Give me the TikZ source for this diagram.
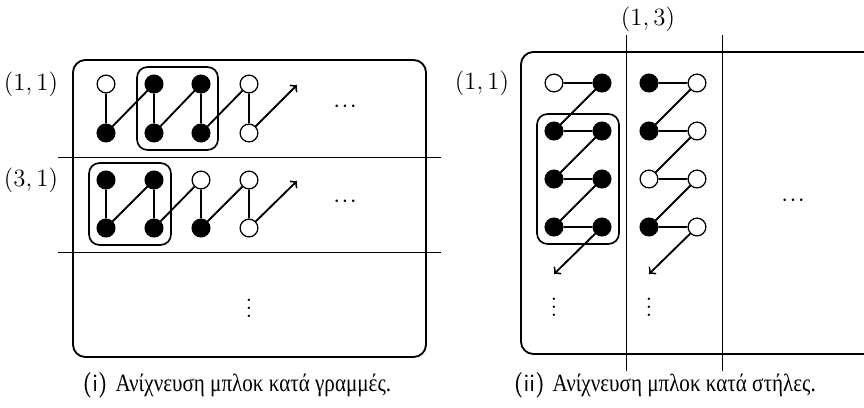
\documentclass[tikz,border=0pt]{standalone}
\usepackage{fontspec}
\usepackage{amsmath}
\usetikzlibrary{fit}
\newfontfamily\greekfont[FakeStretch=0.85]{Liberation Serif}
\newcommand{\moredots}{${\cdot}\mkern1mu{\cdot}\mkern1mu{\cdot}$}

\tikzset{
  wdot/.style={circle, draw, fill=white, inner sep=0pt, minimum size=8.6pt, line width=0.6pt},
  bdot/.style={wdot, fill=black},
  link/.style={line width=0.9pt},
  blockbox/.style={draw, rounded corners=5pt, line width=0.8pt, inner sep=3.6pt},
  panel/.style={draw, rounded corners=6pt, line width=0.9pt},
  sep/.style={line width=0.45pt},
  coord/.style={font=\large},
  caption/.style={font=\large}
}

\begin{document}
\begin{tikzpicture}[x=0.017cm, y=-0.017cm, >=to]
  \clip (0,0) rectangle (864,407);

  % (i) row-wise tracing
  \draw[panel] (73,60) rectangle (426,357);
  \draw[sep] (58,157) -- (441,157);
  \draw[sep] (58,252) -- (441,252);
  \node[coord] (lr1) at (31,84) {$(1,1)$};
  \node[coord] (lr3) at (31,180) {$(3,1)$};

  % first block row
  \node[wdot] (a11) at (106,84) {};
  \node[bdot] (a12) at (154,84) {};
  \node[bdot] (a13) at (201,84) {};
  \node[wdot] (a14) at (249,84) {};
  \node[bdot] (b11) at (106,133) {};
  \node[bdot] (b12) at (154,133) {};
  \node[bdot] (b13) at (201,133) {};
  \node[wdot] (b14) at (249,133) {};
  \coordinate (e1) at (297,85);
  \draw[link] (a11) -- (b11) -- (a12) -- (b12) -- (a13) -- (b13) -- (a14) -- (b14);
  \draw[link, ->] (b14) -- (e1);
  \node[blockbox, fit=(a12)(b13)] (blk1) {};
  \node[coord] (hd1) at (345,107) {\moredots};

  % second block row
  \node[bdot] (a21) at (106,180) {};
  \node[bdot] (a22) at (154,180) {};
  \node[wdot] (a23) at (201,180) {};
  \node[wdot] (a24) at (249,180) {};
  \node[bdot] (b21) at (106,228) {};
  \node[bdot] (b22) at (154,228) {};
  \node[bdot] (b23) at (201,228) {};
  \node[wdot] (b24) at (249,228) {};
  \coordinate (e2) at (297,181);
  \draw[link] (a21) -- (b21) -- (a22) -- (b22) -- (a23) -- (b23) -- (a24) -- (b24);
  \draw[link, ->] (b24) -- (e2);
  \node[blockbox, fit=(a21)(b22)] (blk2) {};
  \node[coord] (hd2) at (345,202) {\moredots};
  \node[coord] (vd1) at (249,302) {$\vdots$};

  \node[caption] (capi) at (237,385) {{\sffamily(i)} \greekfont Ανίχνευση μπλοκ κατά γραμμές.};

  % (ii) column-wise tracing
  \draw[panel] (521,52) rectangle (880,354);
  \draw[sep] (626,35) -- (626,371);
  \draw[sep] (722,35) -- (722,371);
  \node[coord] (rl1) at (482,83) {$(1,1)$};
  \node[coord] (rl3) at (648,19) {$(1,3)$};

  % first block column
  \node[wdot] (c11) at (554,83) {};
  \node[bdot] (c12) at (602,83) {};
  \node[bdot] (c21) at (554,131) {};
  \node[bdot] (c22) at (602,131) {};
  \node[bdot] (c31) at (554,179) {};
  \node[bdot] (c32) at (602,179) {};
  \node[bdot] (c41) at (554,227) {};
  \node[bdot] (c42) at (602,227) {};
  \coordinate (f1) at (554,274);
  \draw[link] (c11) -- (c12) -- (c21) -- (c22) -- (c31) -- (c32) -- (c41) -- (c42);
  \draw[link, ->] (c42) -- (f1);
  \node[blockbox, fit=(c21)(c42)] (blk3) {};
  \node[coord] (vd2) at (554,301) {$\vdots$};

  % second block column
  \node[bdot] (d11) at (649,83) {};
  \node[wdot] (d12) at (697,83) {};
  \node[bdot] (d21) at (649,131) {};
  \node[wdot] (d22) at (697,131) {};
  \node[wdot] (d31) at (649,179) {};
  \node[wdot] (d32) at (697,179) {};
  \node[bdot] (d41) at (649,227) {};
  \node[wdot] (d42) at (697,227) {};
  \coordinate (f2) at (649,274);
  \draw[link] (d11) -- (d12) -- (d21) -- (d22) -- (d31) -- (d32) -- (d41) -- (d42);
  \draw[link, ->] (d42) -- (f2);
  \node[coord] (vd3) at (649,301) {$\vdots$};
  \node[coord] (hd3) at (793,201) {\moredots};

  \node[caption] (capii) at (665,385) {{\sffamily(ii)} \greekfont Ανίχνευση μπλοκ κατά στήλες.};
\end{tikzpicture}
\end{document}
